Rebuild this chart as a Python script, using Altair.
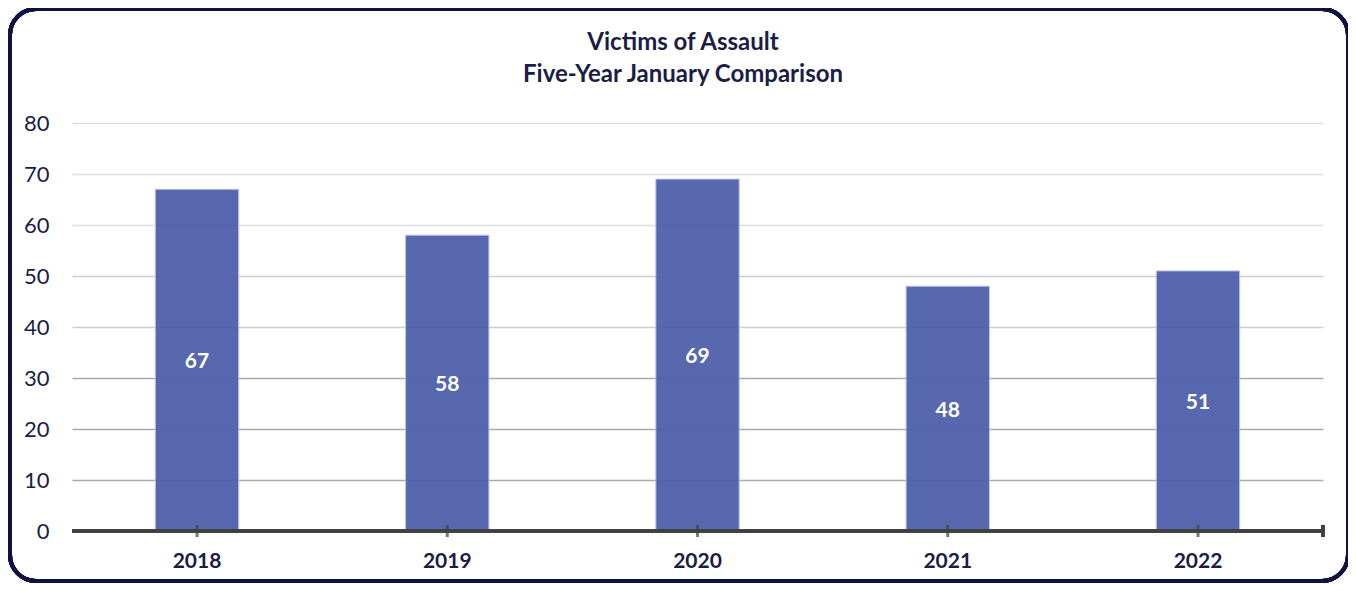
import altair as alt
import pandas as pd

years = ["2018", "2019", "2020", "2021", "2022"]
victims = [67, 58, 69, 48, 51]
title_lines = ["Victims of Assault", "Five-Year January Comparison"]

df = pd.DataFrame({"year": years, "victims": victims})
df["half"] = df["victims"] / 2

W, H = 1251, 408
NAVY = "#1b1d45"
FONT = "Lato"

x_enc = alt.X("year:N", sort=years,
              scale=alt.Scale(paddingInner=0.667, paddingOuter=0.333),
              axis=alt.Axis(title=None, labelFont=FONT, labelFontSize=21, labelFontWeight="bold",
                            labelColor=NAVY, labelPadding=19, labelAngle=0, ticks=False, domain=False, grid=False))
y_scale = alt.Scale(domain=[0, 80])

base = alt.Chart(df)

bars = base.mark_bar(color="#5060aa", opacity=0.95, stroke="#b7bfe6", strokeWidth=1).encode(
    x=x_enc,
    y=alt.Y("victims:Q", scale=y_scale,
            axis=alt.Axis(title=None, values=[0, 10, 20, 30, 40, 50, 60, 70, 80],
                          labelFont=FONT, labelFontSize=22, labelColor=NAVY, labelPadding=23,
                          ticks=False, domain=False, grid=True, gridWidth=1.5,
                          gridColor={"expr": "datum.value >= 60 ? '#dedede' : datum.value >= 40 ? '#cdcdcd' : '#ababab'"})),
)

labels = base.mark_text(color="white", font=FONT, fontSize=21, fontWeight="bold", dy=2).encode(
    x=alt.X("year:N", sort=years),
    y=alt.Y("half:Q", scale=y_scale),
    text=alt.Text("victims:Q"),
)

baseline = base.mark_rule(color="#404040", strokeWidth=3).encode(
    x=alt.value(0), x2=alt.value(W), y=alt.value(H)
)

ticks = base.mark_tick(color="#404040", thickness=3, size=12, orient="vertical").encode(
    x=alt.X("year:N", sort=years),
    y=alt.value(H),
)

end_tick = base.mark_rule(color="#404040", strokeWidth=3).encode(
    x=alt.value(W), y=alt.value(H - 6), y2=alt.value(H + 6)
)

border = base.mark_rect(fill="transparent", stroke="#0f1240", strokeWidth=4, cornerRadius=26).encode(
    x=alt.value(-62), x2=alt.value(1276), y=alt.value(-114), y2=alt.value(458)
)

title1 = alt.Chart(pd.DataFrame({"t": [title_lines[0]]})).mark_text(
    font=FONT, fontSize=24, fontWeight="bold", color=NAVY, baseline="middle"
).encode(text="t:N", x=alt.value(611), y=alt.value(-80))

title2 = alt.Chart(pd.DataFrame({"t": [title_lines[1]]})).mark_text(
    font=FONT, fontSize=24, fontWeight="bold", color=NAVY, baseline="middle"
).encode(text="t:N", x=alt.value(611), y=alt.value(-48))

chart = alt.layer(border, bars, labels, baseline, ticks, end_tick, title1, title2).properties(
    width=W, height=H,
    autosize=alt.AutoSizeParams(type="none"),
    padding={"left": 64, "top": 115, "right": 25, "bottom": 52},
).configure_view(stroke=None)

chart.save("out.html", embed_options={"renderer": "svg", "actions": False})
